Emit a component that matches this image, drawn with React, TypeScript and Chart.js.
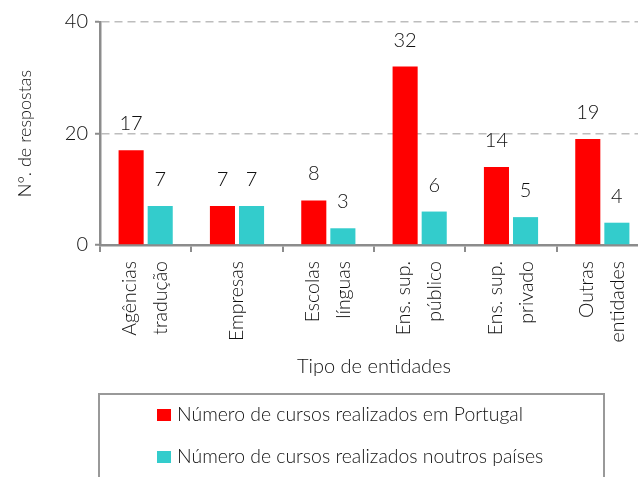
import { useEffect, useRef } from "react";
import { Chart, registerables } from "chart.js";

Chart.register(...registerables);

// ---- Data ----
const categories: string[][] = [
  ["Agências", "tradução"],
  ["Empresas"],
  ["Escolas", "línguas"],
  ["Ens. sup.", "público"],
  ["Ens. sup.", "privado"],
  ["Outras", "entidades"],
];
const seriesNames = [
  "Número de cursos realizados em Portugal",
  "Número de cursos realizados noutros países",
];
const portugalValues = [17, 7, 8, 32, 14, 19];
const otherCountriesValues = [7, 7, 3, 6, 5, 4];
const yTickValues = [0, 20, 40];
const xTitle = "Tipo de entidades";
const yTitle = "N°. de respostas";

const RED = "#ff0000";
const CYAN = "#33cccc";
const FONT = "Lato, 'DejaVu Sans', sans-serif";
const TEXT = "#111111";
const AXIS = "#8c8c8c";
const W = "300";

const xLabelsPlugin = {
  id: "xLabels",
  afterDraw(chart: any) {
    const xs = chart.scales.x;
    const ctx = chart.ctx;
    ctx.save();
    ctx.font = `${W} 19.5px ${FONT}`;
    ctx.fillStyle = TEXT;
    ctx.textAlign = "right";
    ctx.textBaseline = "middle";
    (chart.data.labels as any[]).forEach((lab, i) => {
      const lines: string[] = Array.isArray(lab) ? lab : [lab];
      const px = xs.getPixelForValue(i);
      ctx.save();
      ctx.translate(px, xs.top + 16);
      ctx.rotate(-Math.PI / 2);
      lines.forEach((ln, j) => {
        ctx.fillText(ln, 0, (j - (lines.length - 1) / 2) * 31);
      });
      ctx.restore();
    });
    ctx.restore();
  },
};

const valueLabelsPlugin = {
  id: "valueLabels",
  afterDatasetsDraw(chart: any) {
    const ctx = chart.ctx;
    ctx.save();
    ctx.font = `${W} 20px ${FONT}`;
    ctx.fillStyle = TEXT;
    ctx.textAlign = "center";
    ctx.textBaseline = "alphabetic";
    chart.data.datasets.forEach((ds: any, i: number) => {
      const meta = chart.getDatasetMeta(i);
      meta.data.forEach((bar: any, j: number) => {
        ctx.fillText(String(ds.data[j]), bar.x, bar.y - 20);
      });
    });
    ctx.restore();
  },
};

const boxLegendPlugin = {
  id: "boxLegend",
  afterDraw(chart: any) {
    const ctx = chart.ctx;
    const top = chart.scales.x.bottom + 9;
    ctx.save();
    ctx.strokeStyle = "#999999";
    ctx.lineWidth = 2;
    ctx.strokeRect(99, top, 505, 140);
    ctx.font = `${W} 19.4px ${FONT}`;
    ctx.textAlign = "left";
    ctx.textBaseline = "middle";
    chart.data.datasets.forEach((ds: any, i: number) => {
      const cy = top + 21 + i * 42;
      ctx.fillStyle = ds.backgroundColor;
      ctx.fillRect(157, cy - 6, 14, 12);
      ctx.fillStyle = TEXT;
      ctx.fillText(ds.label, 177, cy);
    });
    ctx.restore();
  },
};

export default function App() {
  const canvasRef = useRef<HTMLCanvasElement | null>(null);

  useEffect(() => {
    if (!canvasRef.current) return;
    const chart = new Chart(canvasRef.current, {
      type: "bar",
      data: {
        labels: categories,
        datasets: [
          {
            label: seriesNames[0],
            data: portugalValues,
            backgroundColor: RED,
            barPercentage: 0.862,
            categoryPercentage: 0.637,
          },
          {
            label: seriesNames[1],
            data: otherCountriesValues,
            backgroundColor: CYAN,
            barPercentage: 0.862,
            categoryPercentage: 0.637,
          },
        ],
      },
      options: {
        responsive: false,
        animation: false,
        devicePixelRatio: 1,
        layout: { padding: { top: 22, right: 12, bottom: 92, left: 0 } },
        plugins: {
          legend: { display: false },
          tooltip: { enabled: false },
        },
        scales: {
          x: {
            grid: {
              display: true,
              drawOnChartArea: false,
              drawTicks: true,
              tickLength: 7,
              color: AXIS,
              lineWidth: 2,
              offset: true,
            },
            border: { color: AXIS, width: 2.5 },
            ticks: { display: false },
            title: {
              display: true,
              text: xTitle,
              color: TEXT,
              font: { family: FONT, size: 20, weight: W },
              padding: { top: 0, bottom: 6 },
            },
            afterFit: (s: any) => {
              s.height = 140;
            },
          },
          y: {
            min: 0,
            max: 40,
            afterBuildTicks: (s: any) => {
              s.ticks = yTickValues.map((v) => ({ value: v }));
            },
            ticks: {
              color: TEXT,
              padding: 7,
              font: { family: FONT, size: 20, weight: W },
            },
            grid: {
              color: (c: any) =>
                c.tick && c.tick.value === 0 ? "rgba(0,0,0,0)" : "#bdbdbd",
              lineWidth: 1.5,
              tickColor: AXIS,
              tickLength: 5,
              tickWidth: 2,
              tickBorderDash: [],
            },
            border: { color: AXIS, width: 2.5, dash: [8, 5] },
            title: {
              display: true,
              text: yTitle,
              color: TEXT,
              font: { family: FONT, size: 18, weight: W },
              padding: { top: 14, bottom: 0 },
            },
            afterFit: (s: any) => {
              s.width = 100;
            },
          },
        },
      },
      plugins: [valueLabelsPlugin, xLabelsPlugin, boxLegendPlugin],
    } as any);
    return () => chart.destroy();
  }, []);

  return (
    <div
      style={{
        position: "fixed",
        left: 0,
        top: 0,
        width: 638,
        height: 477,
        overflow: "hidden",
        background: "#ffffff",
      }}
    >
      <canvas
        ref={canvasRef}
        width={660}
        height={477}
        style={{ display: "block", width: 660, height: 477 }}
      />
    </div>
  );
}
